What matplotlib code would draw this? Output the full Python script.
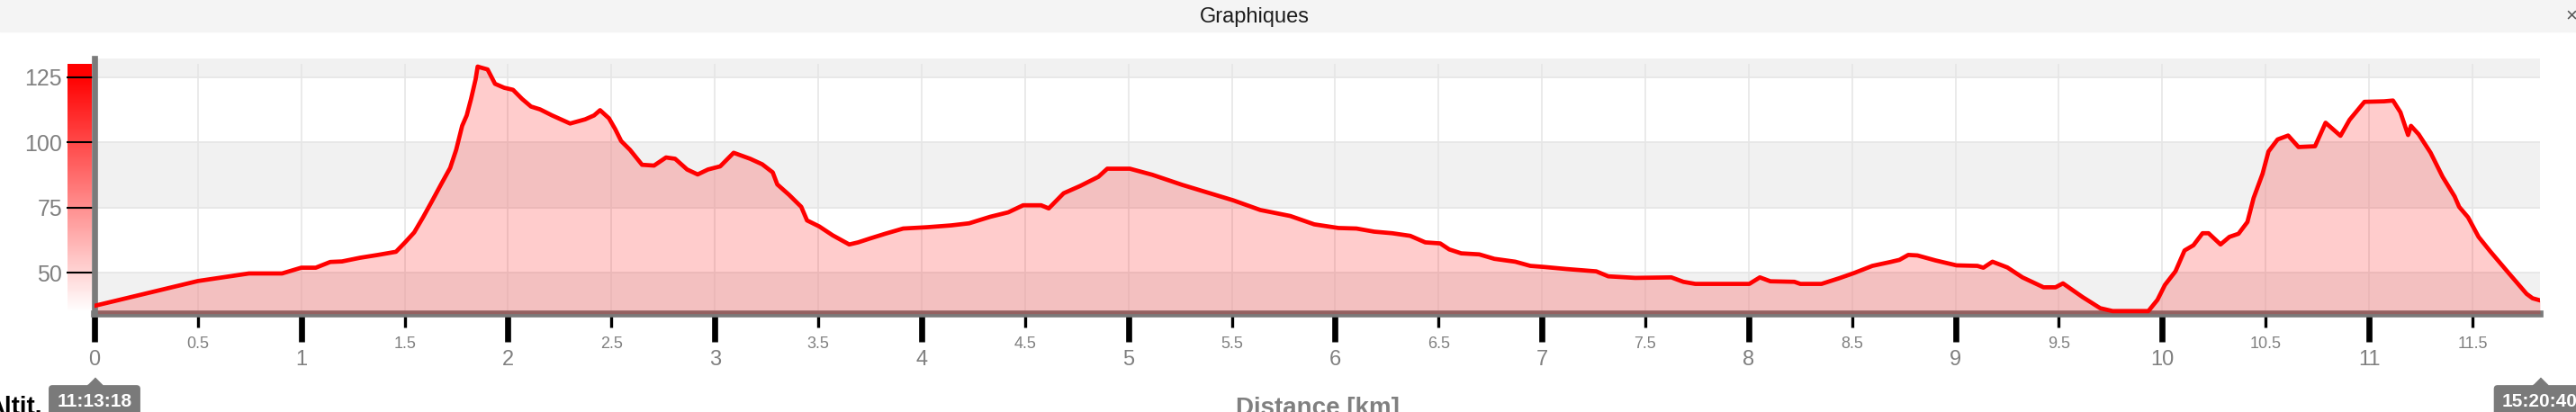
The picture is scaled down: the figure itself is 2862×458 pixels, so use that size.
import matplotlib
matplotlib.use("Agg")
import numpy as np
import matplotlib.pyplot as plt
from matplotlib.colors import LinearSegmentedColormap
from matplotlib.transforms import blended_transform_factory

# elevation profile
distance_km = [0.000, 0.500, 0.747, 0.907, 1.000, 1.070, 1.140, 1.197, 1.284, 1.371,
               1.458, 1.502, 1.546, 1.589, 1.633, 1.676, 1.720, 1.749, 1.778, 1.800,
               1.821, 1.843, 1.853, 1.865, 1.901, 1.937, 1.981, 2.024, 2.068, 2.111,
               2.155, 2.213, 2.300, 2.373, 2.416, 2.445, 2.488, 2.518, 2.547, 2.590,
               2.648, 2.706, 2.764, 2.808, 2.866, 2.917, 2.967, 3.026, 3.091, 3.171,
               3.229, 3.280, 3.302, 3.359, 3.418, 3.446, 3.505, 3.570, 3.650, 3.693,
               3.751, 3.824, 3.911, 4.027, 4.143, 4.230, 4.332, 4.419, 4.491, 4.578,
               4.615, 4.687, 4.767, 4.855, 4.898, 5.007, 5.115, 5.261, 5.406, 5.507,
               5.638, 5.783, 5.899, 6.016, 6.103, 6.189, 6.276, 6.363, 6.436, 6.508,
               6.552, 6.610, 6.697, 6.770, 6.871, 6.944, 7.009, 7.118, 7.263, 7.321,
               7.452, 7.626, 7.684, 7.742, 8.003, 8.054, 8.105, 8.221, 8.250, 8.352,
               8.439, 8.511, 8.598, 8.686, 8.729, 8.772, 8.816, 8.903, 9.005, 9.106,
               9.135, 9.179, 9.251, 9.324, 9.426, 9.484, 9.520, 9.614, 9.700, 9.760,
               9.933, 9.977, 10.013, 10.064, 10.108, 10.151, 10.195, 10.224, 10.282, 10.325,
               10.369, 10.412, 10.442, 10.485, 10.514, 10.558, 10.609, 10.659, 10.739, 10.790,
               10.862, 10.906, 10.978, 11.073, 11.116, 11.152, 11.189, 11.203, 11.240, 11.298,
               11.356, 11.414, 11.436, 11.479, 11.530, 11.588, 11.675, 11.762, 11.791, 11.827]
altitude_m = [37.4, 46.9, 49.8, 49.8, 52.0, 52.0, 54.2, 54.4, 55.8, 56.9,
              58.1, 61.7, 65.5, 71.3, 77.6, 83.9, 90.2, 97.1, 106.3, 110.3,
              116.6, 124.1, 129.0, 128.7, 127.9, 122.4, 120.9, 120.1, 116.6, 113.7,
              112.6, 110.3, 107.2, 108.8, 110.3, 112.3, 109.2, 105.1, 100.5, 97.1,
              91.4, 91.1, 94.2, 93.7, 89.6, 87.7, 89.6, 90.8, 96.0, 93.7,
              91.6, 88.5, 83.9, 79.9, 75.3, 70.1, 67.8, 64.4, 60.9, 61.7,
              63.2, 65.0, 67.0, 67.5, 68.2, 69.0, 71.5, 73.2, 75.9, 75.9,
              74.7, 80.5, 83.3, 86.8, 89.9, 89.9, 87.6, 83.7, 80.2, 77.8,
              74.1, 71.8, 68.6, 67.2, 67.0, 65.8, 65.2, 64.2, 61.7, 61.3,
              59.0, 57.5, 57.1, 55.4, 54.3, 52.7, 52.3, 51.5, 50.6, 48.7,
              48.1, 48.3, 46.6, 45.8, 45.8, 48.3, 46.8, 46.6, 45.8, 45.8,
              48.0, 50.0, 52.7, 54.2, 55.0, 56.9, 56.7, 54.8, 52.9, 52.7,
              52.0, 54.3, 52.1, 48.3, 44.5, 44.5, 46.0, 40.8, 36.5, 35.4,
              35.4, 39.7, 45.4, 50.6, 58.6, 60.6, 65.2, 65.2, 60.9, 63.8,
              65.0, 69.5, 78.7, 87.9, 96.5, 101.1, 102.6, 98.2, 98.5, 107.5,
              102.5, 108.6, 115.5, 115.7, 116.0, 111.5, 102.8, 106.3, 103.1, 96.0,
              86.8, 79.3, 75.3, 71.3, 63.8, 58.1, 50.0, 42.0, 40.3, 39.5]

y_ticks = [50, 75, 100, 125]
x_major = list(range(0, 12))
x_minor = [i + 0.5 for i in range(0, 12)]
start_time = "11:13:18"
end_time = "15:20:40"

W, H = 2862, 458
plt.rcParams['font.family'] = ['Liberation Sans', 'DejaVu Sans']


def fx(x):
    return x / W


def fy(y):
    return 1 - y / H


fig = plt.figure(figsize=(W / 100, H / 100), dpi=100)
fig.patch.set_facecolor('white')

# window title bar
fig.patches.append(plt.Rectangle((0, fy(35)), 1, 35 / H, transform=fig.transFigure,
                                 color='#f4f4f4', zorder=0))
fig.text(fx(1394), fy(25), 'Graphiques', ha='center', va='baseline', fontsize=17, color='#1c1c1c')
fig.text(fx(2850), fy(18), '×', ha='left', va='center', fontsize=16, color='#555555')

ymin, ymax = 34.4, 132.1

# colour scale on the left
cax = fig.add_axes([fx(75), fy(347), fx(102) - fx(75), (347 - 71) / H])
grad = np.linspace(35, 130, 256)[:, None]
cmap = LinearSegmentedColormap.from_list('alt', ['#ffffff', '#ff0000'])
cax.imshow(grad, cmap=cmap, vmin=35, vmax=126, aspect='auto', origin='lower')
cax.axis('off')

# main plot
ax = fig.add_axes([fx(105), fy(348.7), (2822 - 105) / W, (348.7 - 65) / H])
ax.set_facecolor('white')
ax.set_xlim(0, distance_km[-1])
ax.set_ylim(ymin, ymax)

# alternating bands
for lo, hi in [(ymin, 50), (75, 100), (125, ymax)]:
    ax.axhspan(lo, hi, color='#f1f1f1', lw=0, zorder=0.1)

for y in y_ticks:
    ax.axhline(y, color='#e6e6e6', lw=1.3, zorder=0.3)
for x in x_major[1:] + x_minor:
    ax.vlines(x, ymin, 130.06, color='#e6e6e6', lw=1.2, zorder=0.3)

ax.fill_between(distance_km, altitude_m, ymin, color=(1, 0, 0, 0.2), lw=0, zorder=1.5)
ax.plot(distance_km, altitude_m, color='#ff0000', lw=3.4, zorder=3)

for s in ['top', 'right']:
    ax.spines[s].set_visible(False)
ax.spines['left'].set_color('#7a7a7a')
ax.spines['left'].set_linewidth(4.8)
ax.spines['left'].set_zorder(2)
ax.spines['bottom'].set_color('#7a7a7a')
ax.spines['bottom'].set_linewidth(5.5)
ax.spines['bottom'].set_zorder(1)
ax.set_axisbelow(True)

ax.set_xticks(x_major)
ax.set_xticklabels([str(v) for v in x_major])
ax.set_xticks(x_minor, minor=True)
ax.set_xticklabels([f'{v:g}' for v in x_minor], minor=True)
ax.tick_params(axis='x', which='major', length=22.5, width=4.8, color='black', pad=6.8,
               labelsize=17, labelcolor='#808080')
ax.tick_params(axis='x', which='minor', length=11, width=2.4, color='black', pad=7.5,
               labelsize=13, labelcolor='#808080')
ax.set_yticks(y_ticks)
ax.tick_params(axis='y', which='major', length=22.3, width=1.5, color='black', pad=3.6,
               labelsize=18, labelcolor='#808080')

ax.set_xlabel('Distance [km]', fontsize=20, fontweight='bold', color='#808080')
ax.xaxis.set_label_coords(0.5, -0.327)
fig.text(fx(47), fy(440), 'Altit.', ha='right', va='top', fontsize=20, fontweight='bold', color='black')

# time markers at both ends
trans = blended_transform_factory(ax.transData, fig.transFigure)
tri = [(-1, 0), (1, 0), (0, 1)]
for d, label in [(distance_km[0], start_time), (distance_km[-1], end_time)]:
    ax.plot([d], [fy(427.5)], marker=tri, ms=12.2, color='#7a7a7a', transform=trans,
            clip_on=False, zorder=5)
    ax.text(d, fy(447), label, transform=trans, ha='center', va='center', color='white',
            fontsize=15, fontweight='bold', clip_on=False, zorder=5,
            bbox=dict(boxstyle='round,pad=0.45,rounding_size=0.2', fc='#7a7a7a', ec='none'))

fig.savefig('out.png', dpi=100)
